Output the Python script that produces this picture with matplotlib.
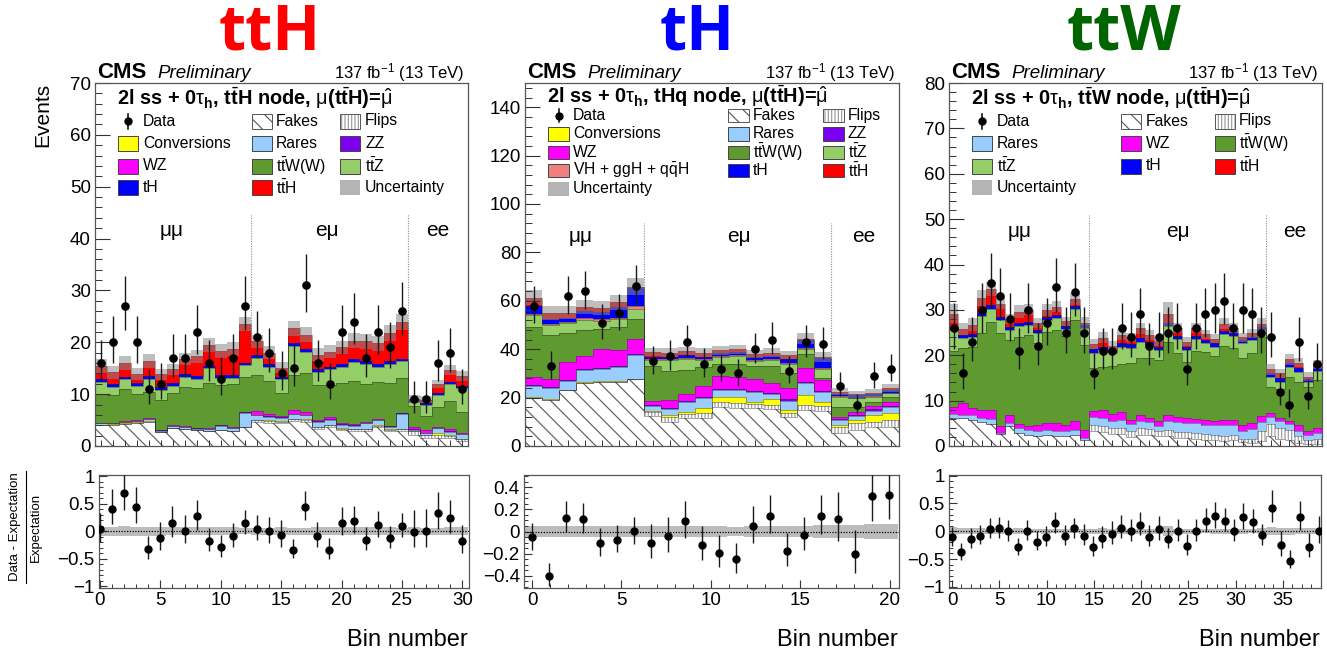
import numpy as np
import matplotlib
matplotlib.use("Agg")
import matplotlib.pyplot as plt
from matplotlib.patches import Rectangle
from matplotlib.lines import Line2D
from matplotlib.ticker import MultipleLocator, FixedLocator, NullFormatter

W, H = 1327, 651
DPI = 100

plt.rcParams.update({
    "font.family": ["Liberation Sans", "DejaVu Sans"],
    "mathtext.fontset": "custom",
    "mathtext.rm": "Liberation Sans",
    "mathtext.it": "Liberation Sans:italic",
    "mathtext.bf": "Liberation Sans:bold",
    "mathtext.sf": "Liberation Sans",
    "hatch.linewidth": 0.85,
    "axes.linewidth": 0.9,
})

# ---------------------------------------------------------------- ttH node
tth_data = [16, 20, 27, 20, 11, 12, 17, 17, 22, 16, 13, 17, 27, 21, 18, 14, 15, 31, 16, 12,
            22, 24, 17, 22, 19, 26, 9, 9, 16, 18, 11]
tth_fakes = [4.0, 4.1, 4.3, 4.5, 4.7, 2.7, 3.5, 3.3, 3.0, 2.8, 3.1, 2.8, 3.6, 4.6, 4.5, 4.4,
             4.8, 4.7, 3.3, 3.7, 3.0, 2.9, 2.9, 3.6, 2.8, 2.9, 2.2, 1.5, 1.6, 1.5, 1.0]
tth_flips = [0, 0, 0, 0, 0, 0, 0, 0, 0, 0, 0, 0, 0, 0.4, 0.4, 0.3, 0.4, 0.4, 0.3, 0.3,
             0.3, 0.3, 0.3, 0.3, 0.3, 0.3, 0.6, 0.6, 0.6, 0.5, 0.3]
tth_conv = [0.05, 0.05, 0.05, 0.05, 0.05, 0.05, 0.05, 0.05, 0.05, 0.05, 0.05, 0.05, 0.05,
            0.1, 0.1, 0.1, 0.1, 0.1, 0.1, 0.1, 0.1, 0.1, 0.1, 0.1, 0.1, 0.1,
            0.1, 0.1, 0.3, 0.2, 0.1]
tth_rares = [0.3, 0.2, 0.3, 0.3, 0.5, 0.2, 0.3, 0.3, 0.3, 0.4, 0.8, 0.6, 2.8, 0.8, 0.6, 0.6,
             0.8, 0.7, 1.0, 1.0, 0.7, 0.6, 1.1, 1.0, 0.5, 2.9, 0.2, 0.3, 0.9, 0.5, 0.9]
tth_zz = [0.05, 0.05, 0.05, 0.05, 0.05, 0.05, 0.05, 0.05, 0.05, 0.05, 0.05, 0.05, 0.05,
          0.1, 0.1, 0.1, 0.1, 0.1, 0.1, 0.1, 0.1, 0.1, 0.1, 0.1, 0.1, 0.1,
          0.1, 0.05, 0.05, 0.1, 0.05]
tth_wz = [0.1, 0.1, 0.1, 0.1, 0.1, 0.1, 0.1, 0.1, 0.1, 0.1, 0.1, 0.1, 0.1,
          0.7, 0.5, 0.3, 0.7, 0.6, 0.3, 0.3, 0.2, 0.2, 0.2, 0.2, 0.1, 0.1,
          0.4, 0.5, 0.2, 0.4, 0.1]
tth_ttw = [5.6, 5.3, 6.1, 5.0, 5.1, 5.8, 6.2, 7.5, 7.7, 8.8, 7.7, 8.4, 6.8, 6.9, 6.3, 4.5,
           6.8, 7.4, 6.7, 6.3, 7.7, 8.4, 7.3, 7.1, 8.3, 6.8, 4.1, 2.7, 3.9, 5.5, 4.2]
tth_ttz = [2.3, 1.6, 2.0, 1.6, 2.5, 1.9, 1.4, 2.1, 1.8, 2.8, 1.4, 1.2, 2.2, 3.4, 2.8, 2.6,
           5.6, 4.2, 2.5, 3.0, 3.2, 3.6, 3.9, 2.9, 3.6, 3.1, 0.8, 2.1, 2.2, 3.2, 4.5]
tth_th = [0.5, 0.5, 0.5, 0.5, 0.5, 0.5, 0.5, 0.5, 0.5, 0.5, 0.5, 0.5, 0.5, 0.6, 0.5, 0.5,
          0.6, 0.6, 0.5, 0.5, 0.5, 0.5, 0.5, 0.5, 0.5, 0.5, 0.3, 0.4, 0.5, 0.4, 0.4]
tth_tth = [2.5, 2.3, 2.6, 1.8, 2.9, 2.5, 2.7, 2.9, 3.8, 4.0, 4.6, 5.0, 7.4, 2.6, 2.2, 1.7,
           2.8, 2.7, 2.8, 2.9, 3.2, 3.6, 3.8, 4.0, 5.5, 7.1, 0.3, 0.7, 1.7, 2.3, 1.9]
tth_unc = [1.3, 1.2, 1.4, 1.1, 1.3, 1.1, 1.1, 1.2, 1.3, 1.4, 1.3, 1.3, 1.3, 1.3, 1.2, 1.1,
           1.5, 1.4, 1.3, 1.3, 1.3, 1.4, 1.4, 1.4, 1.5, 1.6, 0.7, 0.6, 0.8, 1.0, 1.0]

# ---------------------------------------------------------------- tHq node
th_data = [58, 33, 62, 64, 51, 55, 66, 35, 37, 43, 34, 32, 30, 40, 44, 31, 43, 42, 25, 17, 29, 32]
th_fakes = [20.0, 19.0, 23.0, 26.0, 26.5, 26.5, 27.5, 12.4, 10.1, 11.4, 11.7, 16.3, 15.8, 15.6,
            15.2, 11.8, 14.9, 14.5, 5.2, 6.6, 7.7, 7.7]
th_flips = [0, 0, 0, 0, 0, 0, 0, 1.6, 2.0, 1.8, 1.8, 1.8, 1.8, 1.8, 1.8, 1.8, 2.2, 2.0,
            2.8, 2.8, 2.4, 3.0]
th_conv = [0.3, 0.3, 0.3, 0.3, 0.3, 0.3, 0.3, 0.5, 0.6, 1.0, 2.4, 2.0, 2.7, 0.8, 2.3, 1.1,
           3.8, 1.8, 0.7, 1.3, 2.7, 2.8]
th_rares = [4.5, 4.8, 3.7, 5.0, 5.0, 6.0, 10.0, 2.0, 2.5, 4.0, 4.0, 3.0, 2.8, 4.1, 2.3, 4.1,
            5.1, 3.9, 2.0, 1.7, 1.8, 2.5]
th_zz = [0.4, 0.4, 0.4, 0.4, 0.4, 0.4, 0.4, 0.3, 0.3, 0.5, 0.5, 0.5, 0.5, 0.5, 0.5, 0.5,
         0.6, 0.5, 0.4, 0.4, 0.5, 0.5]
th_wz = [3.3, 3.0, 7.2, 5.5, 7.8, 6.5, 6.0, 1.8, 3.5, 2.9, 4.5, 5.5, 5.1, 5.0, 4.1, 4.8,
         5.5, 4.4, 1.0, 1.1, 1.4, 1.8]
th_ttw = [20.5, 18.4, 12.2, 10.7, 8.2, 9.3, 8.3, 14.4, 12.0, 9.9, 7.6, 4.9, 5.3, 5.2, 6.8,
          5.9, 5.9, 0.9, 4.2, 2.4, 1.8, 2.1]
th_ttz = [5.1, 4.1, 3.9, 4.2, 3.5, 3.3, 4.0, 2.5, 4.5, 4.3, 3.0, 2.8, 3.0, 2.0, 2.5, 4.0,
          2.0, 4.0, 4.1, 3.4, 2.1, 1.4]
th_vh = [0.6, 0.5, 0.7, 0.7, 0.6, 0.7, 1.2, 0.4, 0.4, 0.4, 0.4, 0.4, 0.4, 0.4, 0.4, 0.4,
         0.4, 0.4, 0.3, 0.3, 0.3, 0.3]
th_th = [3.2, 1.8, 1.6, 3.1, 3.2, 4.3, 7.5, 1.0, 1.0, 1.2, 1.0, 1.3, 1.5, 1.3, 1.3, 1.5,
         3.4, 3.8, 0.8, 1.0, 0.6, 1.2]
th_tth = [3.4, 2.7, 2.1, 1.6, 1.6, 2.0, 0.6, 2.0, 1.6, 1.9, 1.7, 1.0, 1.1, 1.3, 1.3, 1.7,
          0.5, 0.6, 1.0, 0.3, 0.7, 0.8]
th_unc = [3.2, 2.8, 2.8, 2.8, 2.9, 3.0, 3.5, 1.8, 1.8, 1.8, 1.8, 1.8, 1.8, 1.8, 1.8, 1.8,
          2.3, 2.0, 1.3, 1.3, 1.4, 1.6]

# ---------------------------------------------------------------- ttW node
ttw_data = [26, 16, 23, 30, 36, 33, 28, 21, 30, 22, 27, 35, 25, 34, 25,
            16, 21, 21, 26, 24, 29, 22, 24, 25, 26, 17, 26, 29, 30, 32, 26, 30, 29, 25,
            24, 12, 9, 23, 11, 18]
ttw_fakes = [6.1, 6.1, 5.7, 5.2, 4.9, 2.6, 4.3, 2.9, 2.4, 2.1, 2.4, 2.2, 2.1, 2.4, 1.3,
             3.2, 3.0, 2.6, 2.6, 2.0, 2.5, 2.4, 2.2, 2.2, 1.8, 1.8, 1.6, 1.4, 1.4, 1.2, 1.3,
             0.8, 0.7, 1.2, 2.1, 1.6, 1.3, 0.6, 0.4, 0.5]
ttw_flips = [0, 0, 0, 0, 0, 0, 0, 0, 0, 0, 0, 0, 0, 0, 0,
             1.5, 1.5, 1.4, 1.3, 1.3, 1.4, 1.3, 1.2, 1.3, 1.3, 1.2, 1.2, 1.2, 1.1, 1.1, 1.1,
             0.8, 0.8, 2.0, 2.8, 2.4, 2.2, 1.6, 1.0, 1.1]
ttw_rares = [1.0, 0.8, 1.1, 1.0, 1.0, 0.3, 0.8, 1.0, 1.1, 1.3, 1.1, 1.2, 1.1, 1.1, 0.4,
             1.6, 1.7, 1.6, 1.8, 1.6, 1.6, 1.5, 1.0, 2.0, 2.1, 2.1, 2.2, 2.0, 2.1, 2.3, 2.2,
             1.7, 2.3, 2.0, 1.6, 1.6, 1.3, 1.0, 1.0, 1.2]
ttw_wz = [1.4, 2.5, 1.5, 1.7, 2.0, 1.5, 1.7, 0.9, 0.9, 1.2, 1.5, 1.6, 1.4, 1.9, 1.8,
          1.4, 1.8, 1.5, 1.7, 0.9, 1.4, 1.0, 1.0, 1.4, 1.2, 1.0, 0.9, 1.1, 1.0, 1.1, 1.2,
          1.3, 1.3, 1.4, 0.7, 0.6, 0.6, 1.4, 0.8, 1.2]
ttw_ttw = [12.5, 12.1, 13.6, 16.9, 19.5, 20.4, 16.6, 19.3, 20.1, 18.0, 20.2, 20.6, 19.6, 22.4, 18.8,
           9.4, 9.5, 10.6, 10.6, 12.4, 12.4, 13.3, 13.6, 16.1, 14.1, 12.4, 15.1, 15.0, 14.2,
           16.3, 15.7, 14.9, 15.4, 17.4, 5.7, 6.3, 9.7, 9.6, 9.9, 10.5]
ttw_ttz = [4.6, 2.2, 2.1, 3.9, 2.9, 3.0, 2.2, 2.4, 2.2, 2.2, 2.6, 2.5, 1.5, 2.3, 3.6,
           3.5, 3.7, 2.8, 3.9, 3.5, 3.7, 2.8, 2.2, 3.5, 3.0, 2.7, 2.5, 2.0, 2.1, 2.6, 2.8,
           3.2, 2.9, 1.5, 2.4, 1.7, 2.4, 2.2, 1.1, 2.0]
ttw_th = [0.7, 0.7, 0.7, 0.7, 0.7, 0.7, 0.7, 0.7, 0.7, 0.7, 0.7, 0.7, 0.7, 0.7, 0.7,
          0.7, 0.7, 0.7, 0.7, 0.7, 0.7, 0.7, 0.7, 0.7, 0.7, 0.7, 0.7, 0.7, 0.7, 0.7, 0.7,
          0.7, 0.7, 0.7, 0.7, 0.7, 0.7, 0.7, 0.6, 0.7]
ttw_tth = [2.9, 1.4, 2.0, 3.2, 3.6, 2.9, 1.7, 2.4, 2.6, 1.7, 1.5, 1.9, 1.1, 1.6, 0.6,
           1.2, 2.0, 0.9, 1.9, 1.6, 2.2, 1.4, 1.2, 1.9, 1.8, 1.1, 1.8, 1.2, 1.0, 1.6, 1.0,
           0.6, 0.7, 0.7, 0.9, 1.1, 0.9, 1.3, 0.5, 0.8]
ttw_unc = [2.0, 1.4, 1.4, 1.7, 1.6, 1.3, 1.1, 1.5, 1.2, 1.1, 1.3, 1.2, 1.0, 1.3, 1.2,
           1.1, 1.3, 1.0, 1.2, 1.0, 1.2, 1.1, 1.0, 2.6, 1.2, 1.0, 1.2, 1.0, 1.0, 1.2, 1.1,
           1.0, 1.0, 1.4, 1.2, 1.0, 1.2, 1.0, 0.9, 1.0]

channel_names = ["\u03bc\u03bc", "e\u03bc", "ee"]
node_titles = ["ttH", "tH", "ttW"]
node_title_colors = ["#ff0000", "#0000ff", "#006400"]
node_headers = [
    r"2l ss + 0$\mathrm{\tau}_{\mathbf{h}}$, t$\bar{\mathbf{t}}$H node, $\mathrm{\mu}$(t$\bar{\mathbf{t}}$H)=$\hat{\mathrm{\mu}}$",
    r"2l ss + 0$\mathrm{\tau}_{\mathbf{h}}$, tHq node, $\mathrm{\mu}$(t$\bar{\mathbf{t}}$H)=$\hat{\mathrm{\mu}}$",
    r"2l ss + 0$\mathrm{\tau}_{\mathbf{h}}$, t$\bar{\mathbf{t}}$W node, $\mathrm{\mu}$(t$\bar{\mathbf{t}}$H)=$\hat{\mathrm{\mu}}$",
]
lumi_text = r"137 fb$^{-1}$ (13 TeV)"

STACK_ORDER = ["fakes", "flips", "conv", "rares", "zz", "wz", "ttw", "ttz", "vh", "th", "tth"]
STYLE = {
    "fakes": dict(face="white", hatch="\\\\", hcolor="#5e5e5e"),
    "flips": dict(face="white", hatch="|||||", hcolor="#9c9c9c"),
    "conv": dict(face="#ffff00"),
    "rares": dict(face="#99ccff"),
    "zz": dict(face="#7a00f0"),
    "wz": dict(face="#ff00ff"),
    "ttw": dict(face="#5e9a2f"),
    "ttz": dict(face="#95cd68"),
    "vh": dict(face="#f08080"),
    "th": dict(face="#0000ff"),
    "tth": dict(face="#ff0000"),
    "unc": dict(face="#b4b4b4"),
}
LABELS = {
    "data": "Data", "fakes": "Fakes", "flips": "Flips", "conv": "Conversions",
    "rares": "Rares", "zz": "ZZ", "wz": "WZ",
    "ttw": r"t$\bar{\mathrm{t}}$W(W)", "ttz": r"t$\bar{\mathrm{t}}$Z",
    "vh": r"VH + ggH + q$\bar{\mathrm{q}}$H", "th": "tH",
    "tth": r"t$\bar{\mathrm{t}}$H", "unc": "Uncertainty",
}

panels = [
    dict(
        yields=dict(fakes=tth_fakes, flips=tth_flips, conv=tth_conv, rares=tth_rares, zz=tth_zz,
                    wz=tth_wz, ttw=tth_ttw, ttz=tth_ttz, th=tth_th, tth=tth_tth),
        data=tth_data, unc=tth_unc,
        main=(95, 83, 468, 446), ratio=(99, 475, 469, 587.5),
        ylim=(0, 70), ymaj=10, ymin=2,
        rlim=(-1.02, 1.02), rticks=[-1, -0.5, 0, 0.5, 1],
        rlabels=["\u22121", "\u22120.5", "0", "0.5", "1"], rminor=0.1,
        rx0=0.0, rdx=1.0, rxlim=(-0.08, 30.55),
        seps=[12.5, 25.5], sep_top=44.7,
        chan_x=[5.9, 18.8, 27.95], chan_y=41.6,
        header=(117, 98),
        legend=dict(rows=[121, 143.3, 166, 187.7], bh=15,
                    cols=[(118, 138, 143), (252, 272, 276), (340, 360, 365)],
                    grid=[["data", "fakes", "flips"], ["conv", "rares", "zz"],
                          ["wz", "ttw", "ttz"], ["th", "tth", "unc"]]),
    ),
    dict(
        yields=dict(fakes=th_fakes, flips=th_flips, conv=th_conv, rares=th_rares, zz=th_zz,
                    wz=th_wz, ttw=th_ttw, ttz=th_ttz, vh=th_vh, th=th_th, tth=th_tth),
        data=th_data, unc=th_unc,
        main=(525, 83, 899, 446), ratio=(524, 475, 899, 588),
        ylim=(0, 150), ymaj=20, ymin=4,
        rlim=(-0.51, 0.51), rticks=[-0.4, -0.2, 0, 0.2, 0.4],
        rlabels=["\u22120.4", "\u22120.2", "0", "0.2", "0.4"], rminor=0.05,
        rx0=-0.02, rdx=0.952, rxlim=(-0.45, 20.52),
        seps=[6.5, 17.5], sep_top=92.3,
        chan_x=[2.8, 12.1, 19.4], chan_y=86.5,
        header=(547, 96),
        legend=dict(rows=[115.7, 134, 152.3, 170.7, 189], bh=13.3,
                    cols=[(548, 569, 573), (728, 749, 753), (823, 844, 848)],
                    grid=[["data", "fakes", "flips"], ["conv", "rares", "zz"],
                          ["wz", "ttw", "ttz"], ["vh", "th", "tth"], ["unc", None, None]]),
    ),
    dict(
        yields=dict(fakes=ttw_fakes, flips=ttw_flips, rares=ttw_rares, wz=ttw_wz,
                    ttw=ttw_ttw, ttz=ttw_ttz, th=ttw_th, tth=ttw_tth),
        data=ttw_data, unc=ttw_unc,
        main=(949, 83, 1322, 446), ratio=(949, 475, 1321, 588),
        ylim=(0, 80), ymaj=10, ymin=2,
        rlim=(-1.02, 1.01), rticks=[-1, -0.5, 0, 0.5, 1],
        rlabels=["\u22121", "\u22120.5", "0", "0.5", "1"], rminor=0.1,
        rx0=0.0, rdx=0.994, rxlim=(-0.32, 39.03),
        seps=[14.5, 33.5], sep_top=50.9,
        chan_x=[7.1, 24.1, 36.6], chan_y=47.2,
        header=(971, 98),
        legend=dict(rows=[121, 143.3, 166, 187.7], bh=15,
                    cols=[(972, 992, 997), (1121, 1141, 1146), (1215, 1235, 1239)],
                    grid=[["data", "fakes", "flips"], ["rares", "wz", "ttw"],
                          ["ttz", "th", "tth"], ["unc", None, None]]),
    ),
]

title_centers = [270, 697, 1124]

fig = plt.figure(figsize=(W / DPI, H / DPI), dpi=DPI)


def fx(x):
    return x / W


def fy(y):
    return 1.0 - y / H


def rect_of(box):
    l, t, r, b = box
    return [fx(l), fy(b), (r - l) / W, (b - t) / H]


def poisson_errors(n):
    n = np.asarray(n, dtype=float)
    s = np.sqrt(n + 0.25)
    return s - 0.5, s + 0.5


def legend_entry(key, bx0, bx1, yc, bh, tx, fs=11.3):
    if key == "data":
        xm = 0.5 * (bx0 + bx1)
        fig.add_artist(Line2D([fx(xm), fx(xm)], [fy(yc - bh / 2), fy(yc + bh / 2)],
                              color="black", lw=1.1, transform=fig.transFigure))
        fig.add_artist(Line2D([fx(xm)], [fy(yc)], marker="o", ms=5, color="black",
                              transform=fig.transFigure))
    else:
        st = STYLE[key]
        xy = (fx(bx0), fy(yc + bh / 2))
        w, h = (bx1 - bx0) / W, bh / H
        if "hatch" in st:
            fig.add_artist(Rectangle(xy, w, h, transform=fig.transFigure, facecolor="white",
                                     edgecolor=st["hcolor"], hatch=st["hatch"], lw=0))
            fig.add_artist(Rectangle(xy, w, h, transform=fig.transFigure, fill=False,
                                     edgecolor="#555555", lw=0.7))
        elif key == "unc":
            fig.add_artist(Rectangle(xy, w, h, transform=fig.transFigure,
                                     facecolor=st["face"], edgecolor="none", lw=0))
        else:
            fig.add_artist(Rectangle(xy, w, h, transform=fig.transFigure,
                                     facecolor=st["face"], edgecolor="#444444", lw=0.7))
    fig.text(fx(tx), fy(yc), LABELS[key], fontsize=fs, va="center", ha="left")


for k, P in enumerate(panels):
    axm = fig.add_axes(rect_of(P["main"]))
    axr = fig.add_axes(rect_of(P["ratio"]))
    n = len(P["data"])
    xc = np.arange(n)
    edges = np.arange(n + 1) - 0.5

    # stacked backgrounds
    base = np.zeros(n)
    for proc in STACK_ORDER:
        if proc not in P["yields"]:
            continue
        vals = np.asarray(P["yields"][proc], dtype=float)
        top = base + vals
        st = STYLE[proc]
        if "hatch" in st:
            axm.stairs(top, edges, baseline=base, fill=True, facecolor="white",
                       edgecolor=st["hcolor"], hatch=st["hatch"], linewidth=0, zorder=1)
        else:
            axm.stairs(top, edges, baseline=base, fill=True, facecolor=st["face"],
                       edgecolor="none", linewidth=0, zorder=1)
        axm.stairs(top, edges, baseline=None, color="#2b2b2b", lw=0.6, alpha=0.5, zorder=1.1)
        base = top
    total = base
    unc = np.asarray(P["unc"], dtype=float)
    axm.stairs(total + unc, edges, baseline=total - unc, fill=True, facecolor="#8a8a8a",
               alpha=0.55, linewidth=0, zorder=1.2)

    data = np.asarray(P["data"], dtype=float)
    lo, hi = poisson_errors(data)
    axm.errorbar(xc, data, yerr=[lo, hi], fmt="o", ms=5.2, color="black", ecolor="#1a1a1a",
                 elinewidth=1.0, capsize=0, zorder=5)

    axm.vlines(P["seps"], 0, P["sep_top"], colors="#8c8c8c", linestyles=(0, (1, 1.3)),
               lw=0.8, zorder=0.5)
    for name, cx in zip(channel_names, P["chan_x"]):
        axm.text(cx, P["chan_y"], name, ha="center", va="center", fontsize=15)

    axm.set_xlim(-0.5, n - 0.5)
    axm.set_ylim(*P["ylim"])
    axm.xaxis.set_major_locator(MultipleLocator(1))
    axm.xaxis.set_major_formatter(NullFormatter())
    axm.yaxis.set_major_locator(MultipleLocator(P["ymaj"]))
    axm.yaxis.set_minor_locator(MultipleLocator(P["ymin"]))
    axm.tick_params(axis="y", which="major", direction="in", length=10.5, width=0.8,
                    labelsize=13.5, pad=3, color="#333333")
    axm.tick_params(axis="y", which="minor", direction="in", length=5.3, width=0.7,
                    color="#333333")
    axm.tick_params(axis="x", which="major", direction="in", length=4.0, width=0.7,
                    color="#333333")
    for sp in axm.spines.values():
        sp.set_color("#555555")

    # ratio panel
    xr = P["rx0"] + P["rdx"] * np.arange(n)
    redges = P["rx0"] + P["rdx"] * (np.arange(n + 1) - 0.5)
    rel = unc / total
    axr.stairs(rel, redges, baseline=-rel, fill=True, facecolor="#bcbcbc", linewidth=0,
               zorder=1)
    axr.axhline(0, color="black", lw=0.9, ls=(0, (1, 1.2)), zorder=2)
    ratio = (data - total) / total
    axr.errorbar(xr, ratio, yerr=[lo / total, hi / total], fmt="o", ms=5.0, color="black",
                 ecolor="#1a1a1a", elinewidth=1.0, capsize=0, zorder=5)
    axr.set_xlim(*P["rxlim"])
    axr.set_ylim(*P["rlim"])
    axr.yaxis.set_major_locator(FixedLocator(P["rticks"]))
    axr.set_yticklabels(P["rlabels"])
    axr.yaxis.set_minor_locator(MultipleLocator(P["rminor"]))
    axr.xaxis.set_major_locator(MultipleLocator(5))
    axr.xaxis.set_minor_locator(MultipleLocator(1))
    axr.tick_params(which="major", direction="in", length=6.0, width=0.8, labelsize=13.5,
                    pad=3, color="#333333")
    axr.tick_params(which="minor", direction="in", length=3.0, width=0.7, color="#333333")
    for sp in axr.spines.values():
        sp.set_color("#555555")

    l, t, r, b = P["main"]
    fig.text(fx(l + 2), fy(78), "CMS", fontsize=16, fontweight="bold", ha="left", va="baseline")
    fig.text(fx(l + 62), fy(78), "Preliminary", fontsize=13.5, fontstyle="italic",
             ha="left", va="baseline")
    fig.text(fx(r - 4), fy(78), lumi_text, fontsize=12.0, ha="right", va="baseline")

    hx, hy = P["header"]
    fig.text(fx(hx), fy(hy), node_headers[k], fontsize=14.4, fontweight="bold",
             ha="left", va="center")

    L = P["legend"]
    for row, yc in zip(L["grid"], L["rows"]):
        for key, (bx0, bx1, tx) in zip(row, L["cols"]):
            if key is not None:
                legend_entry(key, bx0, bx1, yc, L["bh"], tx)

    rl, rt, rr, rb = P["ratio"]
    fig.text(fx(rr - 1), fy(640), "Bin number", fontsize=17, ha="right", va="center")

    fig.text(fx(title_centers[k]), fy(50), node_titles[k], fontsize=45, fontweight="bold",
             color=node_title_colors[k], ha="center", va="baseline",
             family=["Open Sans", "DejaVu Sans"])

# axis titles on the left column
fig.text(fx(43), fy(83), "Events", rotation=90, ha="center", va="top", fontsize=15)
fig.text(fx(15.5), fy(527), "Data - Expectation", rotation=90, ha="center", va="center",
         fontsize=9.5)
fig.text(fx(35.5), fy(527), "Expectation", rotation=90, ha="center", va="center", fontsize=9.5)
fig.add_artist(Line2D([fx(25.5), fx(25.5)], [fy(471), fy(583)], color="black", lw=0.8,
                      transform=fig.transFigure))

fig.savefig("out.png", dpi=DPI)
